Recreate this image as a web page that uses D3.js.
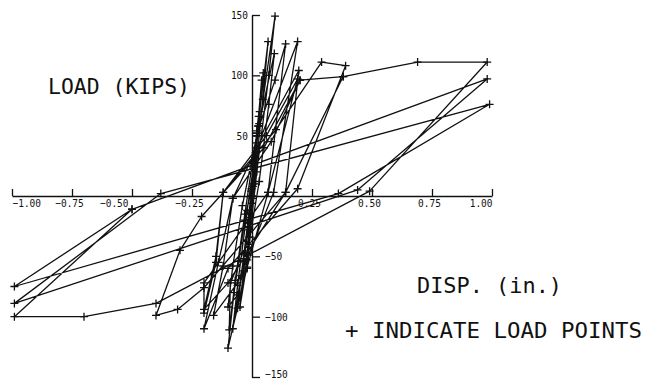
<!DOCTYPE html>
<html>
<head>
<meta charset="utf-8">
<script src="https://cdn.jsdelivr.net/npm/d3@7/dist/d3.min.js"></script>
<style>
  html, body { margin: 0; padding: 0; background: #fff; }
  svg { display: block; }
  text { font-family: "DejaVu Sans Mono", "Liberation Mono", monospace; fill: #111; }
</style>
</head>
<body>
<svg id="chart" width="645" height="381"></svg>
<script>
// Displacement (in.) and load (kips) at each recorded load point, in test order
const disp = [
  0, 0.01, 0.02, 0.012, -0.004, -0.012, -0.02, -0.012, 0.002,
  0.012, 0.025, 0.015, -0.002, -0.01, -0.02, -0.012, 0,
  0.018, 0.04, 0.028, 0.004, -0.015, -0.05, -0.035, -0.012,
  0.02, 0.047, 0.032, 0.006, -0.02, -0.06, -0.045, -0.015,
  0.03, 0.093, 0.07, 0.03, -0.02, -0.06, -0.10, -0.08, -0.04,
  0.02, 0.067, 0.045, 0.01, -0.03, -0.08, -0.06, -0.02,
  0.03, 0.096, 0.07, 0.02, -0.01, -0.09, -0.095, -0.07, -0.03,
  0.02, 0.096, 0.14, 0.067, -0.02, -0.10, -0.075, -0.03,
  0.04, 0.19, 0.09, -0.06, -0.16, -0.12, -0.08,
  0.02, 0.195, 0.14, -0.10, -0.20, -0.15, -0.12,
  0.06, 0.19, 0.067, -0.20, -0.20, -0.15, -0.12,
  0.10, 0.29, 0.39, 0.19, -0.10, -0.20, -0.14, -0.08,
  0.08, 0.20, 0.38, 0.14, -0.20, -0.31, -0.40, -0.30, -0.21,
  0.05, 0.20, 0.38, 0.69, 0.98, 0.49, -0.40, -0.70, -0.99, -0.50,
  0.98, 0.44, -0.99, -0.38, 0.99, 0.36, -0.99, -0.50
];
const load = [
  0, 28, 52, 32, 4, -26, -48, -28, -2,
  30, 58, 36, 6, -34, -60, -40, -6,
  44, 96, 66, 8, -49, -92, -62, -14,
  54, 102, 70, 10, -53, -93, -66, -18,
  60, 118, 76, 12, -48, -82, -92, -58, -8,
  50, 128, 80, 10, -47, -110, -74, -12,
  58, 149, 100, 20, -34, -72, -111, -70, -15,
  52, 96, 126, 3, -59, -126, -80, -20,
  50, 128, 3, -72, -99, -58, -2,
  40, 104, 3, -72, -94, -50, 3,
  50, 97, 3, -72, -97, -55, 3,
  55, 111, 108, 6, -60, -110, -55, -2,
  45, 96, 99, 3, -76, -94, -99, -45, -17,
  40, 96, 99, 111, 111, 4, -89, -100, -100, -11,
  97, 5, -89, 2, 76, 2, -75, -11
];
const xTicks = [-1.00, -0.75, -0.50, -0.25, 0.25, 0.50, 0.75, 1.00];
const yTicks = [150, 100, 50, -50, -100, -150];
const yAxisTitle = "LOAD (KIPS)";
const xAxisTitle = "DISP. (in.)";
const noteText = "+ INDICATE LOAD POINTS";

const points = disp.map((d, i) => ({ d: d, p: load[i] }));

const svg = d3.select("#chart");
const x = d3.scaleLinear().domain([-1, 1]).range([12, 492]);
const y = d3.scaleLinear().domain([-150, 150]).range([377, 15]);

// X axis through load = 0, ticks pointing up, labels below
const xAxis = d3.axisBottom(x)
  .tickValues(xTicks)
  .tickSizeInner(-7)
  .tickSizeOuter(0)
  .tickPadding(4)
  .tickFormat(d3.format(".2f"));
const gx = svg.append("g")
  .attr("transform", `translate(0,${y(0)})`)
  .call(xAxis);
gx.select(".domain").attr("stroke", "#111").attr("stroke-width", 1.4);
gx.selectAll(".tick line").attr("stroke", "#111").attr("stroke-width", 1.3);
gx.selectAll(".tick text")
  .attr("font-size", 10.5)
  .attr("font-family", "DejaVu Sans Mono")
  .attr("fill", "#111")
  .attr("textLength", d => d3.format(".2f")(d).length * 5.7)
  .attr("lengthAdjust", "spacingAndGlyphs")
  .attr("text-anchor", (d, i) => i === 0 ? "start" : (i === xTicks.length - 1 ? "end" : (d === -0.5 ? "end" : "middle")))
  .attr("dx", (d, i) => i === 0 || i === xTicks.length - 1 ? 0 : (d === -0.5 ? -4 : -3));

// Y axis through disp = 0, ticks pointing right
const yAxis = d3.axisRight(y)
  .tickValues(yTicks)
  .tickSizeInner(8)
  .tickSizeOuter(0)
  .tickPadding(5)
  .tickFormat(d3.format("d"));
const gy = svg.append("g")
  .attr("transform", `translate(${x(0)},0)`)
  .call(yAxis);
gy.select(".domain").attr("stroke", "#111").attr("stroke-width", 1.4);
gy.selectAll(".tick line").attr("stroke", "#111").attr("stroke-width", 1.3);
gy.selectAll(".tick text")
  .attr("font-size", 10.5)
  .attr("font-family", "DejaVu Sans Mono")
  .attr("fill", "#111")
  .attr("textLength", d => String(d).length * 5.7)
  .attr("lengthAdjust", "spacingAndGlyphs")
  .attr("text-anchor", d => d > 0 ? "end" : "start")
  .attr("x", d => d > 0 ? -4 : 13)
  .attr("dy", d => d === -150 ? "0.05em" : "0.32em");

// Hysteresis path
const line = d3.line().x(d => x(d.d)).y(d => y(d.p));
svg.append("path")
  .datum(points)
  .attr("d", line)
  .attr("fill", "none")
  .attr("stroke", "#111")
  .attr("stroke-width", 1.3)
  .attr("stroke-linejoin", "round");

// "+" load point markers
const s = 4;
svg.append("g").selectAll("path.mark")
  .data(points)
  .join("path")
  .attr("class", "mark")
  .attr("d", d => `M${x(d.d) - s},${y(d.p)}H${x(d.d) + s}M${x(d.d)},${y(d.p) - s}V${y(d.p) + s}`)
  .attr("stroke", "#111")
  .attr("stroke-width", 1.3);

// Titles
svg.append("text").attr("x", 48).attr("y", 94)
  .attr("font-size", 22).attr("textLength", 142).attr("lengthAdjust", "spacingAndGlyphs")
  .text(yAxisTitle);
svg.append("text").attr("x", 417).attr("y", 293)
  .attr("font-size", 22).attr("textLength", 145).attr("lengthAdjust", "spacingAndGlyphs")
  .text(xAxisTitle);
svg.append("text").attr("x", 345).attr("y", 338)
  .attr("font-size", 22).attr("textLength", 297).attr("lengthAdjust", "spacingAndGlyphs")
  .text(noteText);
</script>
</body>
</html>
